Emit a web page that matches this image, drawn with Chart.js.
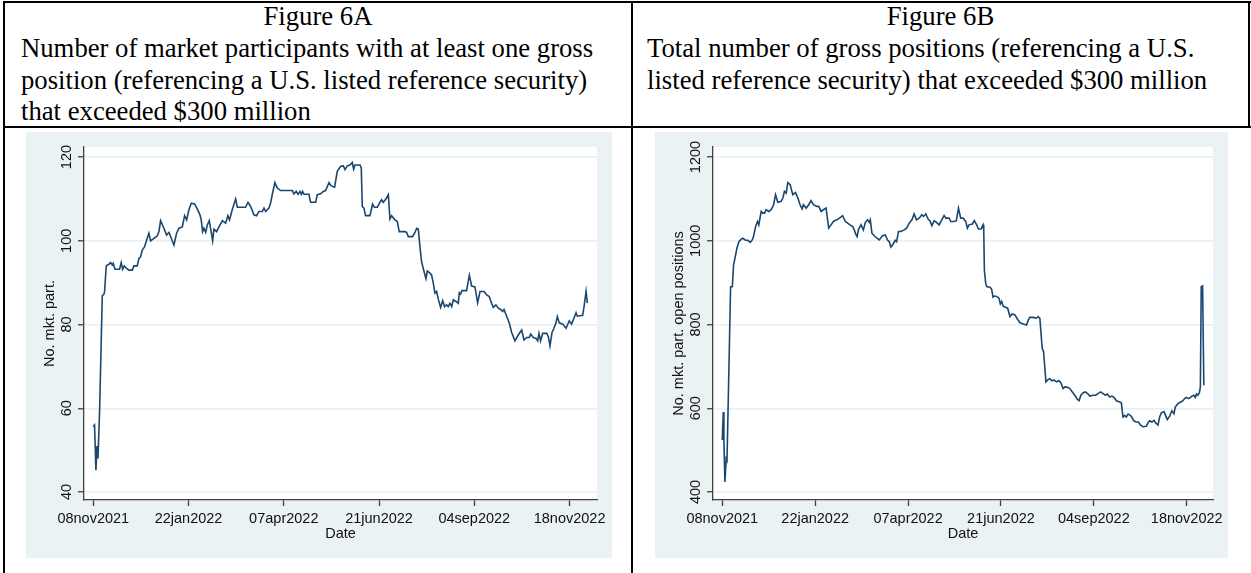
<!DOCTYPE html>
<html>
<head>
<meta charset="utf-8">
<script src="https://cdn.jsdelivr.net/npm/chart.js@4.4.0/dist/chart.umd.min.js"></script>
<style>
  body { margin: 0; width: 1251px; height: 573px; background: #fff; position: relative; overflow: hidden;
         font-family: "Liberation Serif", "Times New Roman", serif; }
  .rule { position: absolute; background: #000; }
  .cap { position: absolute; font-size: 26.7px; line-height: 31.5px; color: #000; white-space: nowrap; }
  .center { text-align: center; }
  .panel { position: absolute; top: 132px; height: 426px; background: #eaf2f3; }
</style>
</head>
<body>

<div class="rule" style="left:3px;top:1px;width:1248px;height:2px"></div>
<div class="rule" style="left:3px;top:126px;width:1248px;height:2px"></div>
<div class="rule" style="left:3px;top:1px;width:2px;height:572px"></div>
<div class="rule" style="left:631px;top:1px;width:2px;height:572px"></div>
<div class="rule" style="left:1248px;top:1px;width:2px;height:127px"></div>

<div class="cap center" style="left:5px;top:1px;width:626px">Figure 6A</div>
<div class="cap" style="left:21px;top:33px">Number of market participants with at least one gross</div>
<div class="cap" style="left:21px;top:65px">position (referencing a U.S. listed reference security)</div>
<div class="cap" style="left:21px;top:96px">that exceeded $300 million</div>

<div class="cap center" style="left:633px;top:1px;width:615px">Figure 6B</div>
<div class="cap" style="left:647px;top:33px">Total number of gross positions (referencing a U.S.</div>
<div class="cap" style="left:647px;top:65px">listed reference security) that exceeded $300 million</div>

<canvas id="chartA" class="panel" width="586" height="426" style="left:26px"></canvas>
<canvas id="chartB" class="panel" width="573" height="426" style="left:655px"></canvas>

<script>
// x values are days since 08nov2021
const dateTicks = [0, 75, 150, 225, 300, 375];
const dateLabels = ['08nov2021', '22jan2022', '07apr2022', '21jun2022', '04sep2022', '18nov2022'];

const ticksA = [40, 60, 80, 100, 120];
const ticksB = [400, 600, 800, 1000, 1200];

const daysA = [0,1,2.1,2.9,3.7,5,7.1,8.4,8.9,10.2,12.3,13.6,15,15.7,17.1,18.9,20.7,22,23.1,24.4,26.2,28.1,30.7,32,34.6,36,37.3,38.6,40.4,42.5,43.8,45.1,47.8,50.4,51.7,53,55.6,57.7,59.6,61.4,63.5,65.6,67.5,70.1,71.9,73.5,75.3,77.2,79.8,81.9,84,85,86.1,87.1,88.5,89.8,91.3,92.9,94,95,97.1,99,101.6,104.2,106,107.3,109.4,112.1,113.4,116,119.9,121.8,123.9,126.5,128.6,130.4,133.1,134.4,135.7,138.3,139.6,140.9,143,144.9,147.5,150.1,156.7,158,159.8,161.2,162.7,163.8,164.8,165.9,169.8,171.1,175.1,176.4,179,181.1,182.9,185.6,187.4,190,192.1,194.8,196.9,
  198.2,200,202.1,203.9,205,206,210,211,211.8,213.1,214.4,217.8,219.9,221.3,223.6,225.7,227,228.3,230.4,232.3,233.6,234.9,237.5,239.4,240.9,245.4,246.7,248,251.4,253.3,254.6,255.9,257.2,258.5,259.8,261.9,263,265.1,266.4,267.7,269,270.3,271.7,273.5,275.1,276.6,278.2,279.5,280.8,282.2,283.5,285.6,287.4,288.2,289.2,290.3,293.9,296.1,297.9,300.5,302.6,304.5,307.6,309.7,311.8,313.6,314.9,317,318.9,320.7,322.3,323.4,325.5,327.6,329.4,332,334.6,337.3,339.1,341.2,343.3,344.4,346.5,348.6,349.9,350.9,352.2,353.8,357,358.3,359.6,361.2,362.7,364.3,365.4,366.9,369.6,372.2,374.8,376.6,377.9,380.1,381.1,385.3,386.4,388,389];
const partA = [55.6,56,45.2,51,48,59.6,86.9,87.2,87.9,94,94.4,94.8,94.2,94.6,93.2,93.2,93.2,94.8,93.2,94,93.4,93,93,94,94,95.8,96.2,97.8,98.6,100.6,101.8,100,100.6,101.2,102.2,104.8,103,101.4,102,100.6,99,101.8,103,103.3,106,105,107.4,109,108.8,107.6,106.2,105,102.2,103,102,103.8,104.8,102,100,102.8,102.2,103.3,104.8,104.2,106,105,107.4,110,108,108,108,109.2,108.2,106.2,106,107,107,107.8,107,107.8,109,111,113.9,112.6,112,112,112,111.2,111.8,111.1,111.8,111.1,111.8,111.1,111.1,109.2,109.2,111,111.2,111.8,112,113.9,113.1,112.8,116.6,117.8,117.9,
  117,117.9,118.1,118.7,117.1,118.1,118.1,117.4,108.2,107.8,106,106,108.8,108,108,109.2,109.8,109.2,110,111,105.2,106,105,104.6,102.2,102.2,102,101,101,102,103,102.8,98.6,95,93.4,91,92.8,92.3,91.8,89.9,87.5,87.9,86,84.1,85.7,84.3,84.7,84.3,85.1,84.3,85.9,85.5,85.1,87.6,87.3,88.1,88.1,91.8,89.2,89,85.2,87.9,87.9,87.1,86.7,85.1,84.1,84.7,83.9,83.6,83.1,83.6,81.9,80.3,78.1,76.1,77.5,78.7,76.3,76.9,76.9,77.7,76.9,76.7,76.1,77.9,76.1,77.9,77.9,77.1,74.9,78.1,79.1,80.4,81.9,80.4,80.1,79.1,80.9,80.1,81.1,82.8,82,82.2,84.3,87.9,85.1];

const daysB = [0,0.8,1.3,2.1,3.2,3.8,5.1,6.7,8.1,9.1,10.5,11.8,13.4,15.3,16.6,18.5,20.7,22.6,24.2,25.2,26.9,28.5,29.5,31.4,32.8,34.1,35.4,37.6,39.5,41.4,43,44.8,47.5,48.9,50.2,51.6,52.9,54.8,56.9,59.1,61,62.8,64.4,65.5,67.7,69.8,71.7,73.6,76.3,77.9,79.8,81.6,83.8,85.9,87.8,89.7,92.4,94.5,97.2,99.4,101.2,103.1,105.3,106.6,107.4,108.8,110.1,112,113.9,115.5,117.3,118.7,119.5,120.8,122.7,124.9,126.7,129.4,131.6,133.5,134.8,136.1,137.5,139.6,140.7,142.3,144.2,146.9,148.8,150.9,153.1,154.9,156.8,159,161.1,162.5,164.3,166.5,167.6,169.2,171.1,172.9,175.1,177.2,179.1,180.5,183.1,184.5,187.2,189,190.7,192.5,194.4,196.6,197.9,199.2,
  201.9,203.5,205.4,206.8,208.9,210.5,211.1,211.6,212.7,213.7,216.2,217.5,218.6,219.7,221.5,223.4,224.5,225.6,226.9,228.8,230.4,232.3,234.1,236.3,238.5,240.4,243,245.7,247.1,248.4,251.1,253.7,255.1,256.4,258.3,259.4,261.3,262.6,264.5,265.8,268,269.9,271.7,273.3,275.2,276.6,278.7,280.6,281.9,284.6,286.8,288.1,289.5,291.4,293.2,295.4,296.7,299.4,301.5,303.4,305.5,307.5,309.3,310.9,312.8,314.6,316.2,318.2,320.8,322.2,323.5,324.8,326.2,327.6,329.5,330.6,332.3,334.1,336,337.6,339.5,342.4,343.7,345,346.9,348.6,349.9,351.8,353.1,354.5,356.6,357.9,359.3,361.2,363,364.7,365.7,367.9,370.1,372,373.3,374.7,376.5,378.1,379.2,380.8,381.9,382.9,384,385.2,386,386.7,387.8,388.8];
const positionsB = [524,591,524,424,480,476,659,890,890,942,962,982,998,1004,1006,1002,1001,996,1002,1010,1034,1046,1038,1070,1066,1066,1074,1070,1074,1086,1110,1092,1094,1102,1118,1114,1139,1134,1110,1115,1102,1086,1076,1086,1078,1086,1096,1086,1082,1082,1070,1074,1078,1030,1038,1046,1050,1054,1060,1046,1042,1038,1034,1026,1018,1010,1028,1038,1026,1044,1050,1044,1050,1018,1012,1006,1002,1012,1014,1001,998,985,990,1001,998,1022,1022,1026,1030,1042,1050,1064,1050,1054,1062,1058,1064,1050,1048,1036,1048,1044,1038,1050,1060,1054,1054,1046,1046,1048,1078,1054,1054,1046,1030,1038,
  1040,1048,1038,1028,1028,1038,1026,930,898,890,889,884,865,868,867,863,849,855,843,841,839,819,825,823,812,804,801,799,811,817,817,815,819,815,743,735,663,667,671,666,667,663,666,661,647,651,650,647,642,631,621,618,631,637,639,634,629,631,631,635,639,635,631,634,627,629,626,618,615,613,579,583,579,586,583,579,570,567,567,560,556,557,565,570,567,571,565,560,579,589,592,583,573,581,594,587,603,611,615,618,623,626,623,626,629,631,626,634,631,637,651,890,892,655];

const SANS = '"Liberation Sans", Arial, sans-serif';
const INK = '#111';
const AXIS = '#404040';

// white plot region on the bluish-gray graph region
const plotFill = {
  id: 'plotFill',
  beforeDraw(chart) {
    const a = chart.chartArea, ctx = chart.ctx;
    ctx.save();
    ctx.fillStyle = '#fff';
    ctx.fillRect(a.left, a.top, a.right - a.left, a.bottom - a.top);
    ctx.restore();
  }
};

// y tick labels stand vertical, read bottom to top
const verticalYLabels = {
  id: 'verticalYLabels',
  afterDraw(chart) {
    const s = chart.scales.y, ctx = chart.ctx;
    ctx.save();
    ctx.font = '14.5px ' + SANS;
    ctx.fillStyle = INK;
    ctx.textAlign = 'center';
    ctx.textBaseline = 'middle';
    s.ticks.forEach(t => {
      ctx.save();
      ctx.translate(chart.chartArea.left - 17.5, s.getPixelForValue(t.value));
      ctx.rotate(-Math.PI / 2);
      ctx.fillText(String(t.value), 0, 0);
      ctx.restore();
    });
    ctx.restore();
  }
};

function drawPanel(id, days, values, yTicks, yMin, yMax, xMin, xMax, yTitle) {
  const pts = days.map((d, i) => ({ x: d, y: values[i] }));
  return new Chart(document.getElementById(id), {
    type: 'line',
    data: { datasets: [{ data: pts, borderColor: '#1a476f', borderWidth: 1.6, pointRadius: 0, tension: 0, fill: false }] },
    options: {
      responsive: false,
      animation: false,
      devicePixelRatio: 1,
      layout: { padding: { top: 15, right: 15, left: 0, bottom: 0 } },
      plugins: { legend: { display: false }, tooltip: { enabled: false } },
      scales: {
        x: {
          type: 'linear', min: xMin, max: xMax,
          afterBuildTicks: ax => { ax.ticks = dateTicks.map(v => ({ value: v })); },
          afterFit: s => { s.height = 58; },
          ticks: {
            autoSkip: false, maxRotation: 0, minRotation: 0, padding: 4,
            color: INK, font: { family: SANS, size: 14.5 },
            callback: v => dateLabels[dateTicks.indexOf(v)]
          },
          grid: { drawOnChartArea: false, drawTicks: true, tickLength: 6, tickColor: AXIS, tickWidth: 1.3 },
          border: { display: true, color: AXIS, width: 1.3 },
          title: { display: true, text: 'Date', color: INK, font: { family: SANS, size: 14.5 }, padding: { top: 0, bottom: 15 } }
        },
        y: {
          type: 'linear', min: yMin, max: yMax,
          afterBuildTicks: ax => { ax.ticks = yTicks.map(v => ({ value: v })); },
          afterFit: s => { s.width = 58; },
          ticks: { display: false },
          grid: { color: '#e8f0f2', lineWidth: 1.5, drawTicks: true, tickLength: 6, tickColor: AXIS, tickWidth: 1.3 },
          border: { display: true, color: AXIS, width: 1.3 },
          title: { display: true, text: yTitle, color: INK, font: { family: SANS, size: 14.5 }, padding: { top: 15.5, bottom: 0 } }
        }
      }
    },
    plugins: [plotFill, verticalYLabels]
  });
}

drawPanel('chartA', daysA, partA, ticksA, 38.1, 122.4, -7.3, 396.6, 'No. mkt. part.');
drawPanel('chartB', daysB, positionsB, ticksB, 380.9, 1223.9, -7.5, 396.2, 'No. mkt. part. open positions');
</script>
</body>
</html>
